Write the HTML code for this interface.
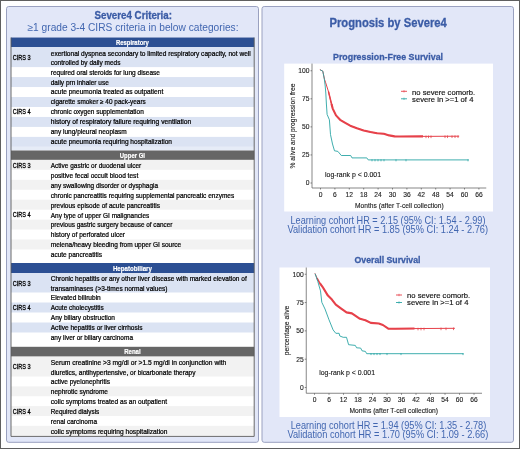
<!DOCTYPE html>
<html lang="en"><head><meta charset="utf-8"><title>Severe4 Criteria and Prognosis</title>
<style>html,body{margin:0;padding:0;background:#fff;overflow:hidden}svg{display:block}</style></head>
<body>
<svg width="520" height="449" viewBox="0 0 520 449" font-family='"Liberation Sans", sans-serif'>
<rect x="0" y="0" width="520" height="449" fill="#fff"/>
<rect x="0.5" y="0.5" width="519" height="448" fill="none" stroke="#5f5f5f" stroke-width="1"/>
<g style="filter:blur(0.35px)">
<rect x="6.5" y="6.5" width="252" height="435.8" rx="2.2" fill="#e2e7f8" stroke="#9aa1c0" stroke-width="1"/>
<rect x="262" y="6.5" width="251.5" height="435.8" rx="2.2" fill="#e2e7f8" stroke="#9aa1c0" stroke-width="1"/>
<text x="94.50" y="19.30" font-size="10.3" fill="#3b5ca6" font-weight="bold" text-anchor="start" textLength="77.50" lengthAdjust="spacingAndGlyphs" stroke="#3b5ca6" stroke-width="0.3">Severe4 Criteria:</text>
<text x="27.50" y="30.80" font-size="10" fill="#4166b0" font-weight="normal" text-anchor="start" textLength="211.00" lengthAdjust="spacingAndGlyphs">≥1 grade 3-4 CIRS criteria in below categories:</text>
<rect x="11" y="37.5" width="243.2" height="398.9" fill="#fff"/>
<rect x="11" y="37.5" width="243.2" height="9.5" fill="#2c4f93"/>
<text x="115.90" y="44.75" font-size="7.2" fill="#fff" font-weight="bold" text-anchor="start" textLength="33.00" lengthAdjust="spacingAndGlyphs" stroke="#fff" stroke-width="0.2">Respiratory</text>
<rect x="11" y="47.00" width="243.2" height="20.10" fill="#dbe3f3"/>
<text x="12.80" y="60.05" font-size="6.85" fill="#000" font-weight="normal" text-anchor="start" textLength="17.80" lengthAdjust="spacingAndGlyphs" stroke="#000" stroke-width="0.3">CIRS 3</text>
<text x="50.75" y="55.55" font-size="6.75" fill="#000" font-weight="normal" text-anchor="start" textLength="200.00" lengthAdjust="spacingAndGlyphs" stroke="#000" stroke-width="0.22">exertional dyspnea secondary to limited respiratory capacity, not well</text>
<text x="50.75" y="65.10" font-size="6.75" fill="#000" font-weight="normal" text-anchor="start" textLength="69.75" lengthAdjust="spacingAndGlyphs" stroke="#000" stroke-width="0.22">controlled by daily meds</text>
<text x="50.75" y="74.53" font-size="6.75" fill="#000" font-weight="normal" text-anchor="start" textLength="109.25" lengthAdjust="spacingAndGlyphs" stroke="#000" stroke-width="0.22">required oral steroids for lung disease</text>
<rect x="11" y="77.07" width="243.2" height="9.97" fill="#dbe3f3"/>
<text x="50.75" y="84.50" font-size="6.75" fill="#000" font-weight="normal" text-anchor="start" textLength="58.00" lengthAdjust="spacingAndGlyphs" stroke="#000" stroke-width="0.22">daily prn inhaler use</text>
<text x="50.75" y="94.47" font-size="6.75" fill="#000" font-weight="normal" text-anchor="start" textLength="112.50" lengthAdjust="spacingAndGlyphs" stroke="#000" stroke-width="0.22">acute pneumonia treated as outpatient</text>
<rect x="11" y="97.01" width="243.2" height="9.97" fill="#dbe3f3"/>
<text x="50.75" y="104.44" font-size="6.75" fill="#000" font-weight="normal" text-anchor="start" textLength="95.00" lengthAdjust="spacingAndGlyphs" stroke="#000" stroke-width="0.22">cigarette smoker ≥ 40 pack-years</text>
<text x="12.80" y="114.26" font-size="6.85" fill="#000" font-weight="normal" text-anchor="start" textLength="17.80" lengthAdjust="spacingAndGlyphs" stroke="#000" stroke-width="0.3">CIRS 4</text>
<text x="50.75" y="114.41" font-size="6.75" fill="#000" font-weight="normal" text-anchor="start" textLength="93.00" lengthAdjust="spacingAndGlyphs" stroke="#000" stroke-width="0.22">chronic oxygen supplementation</text>
<rect x="11" y="116.95" width="243.2" height="9.97" fill="#dbe3f3"/>
<text x="50.75" y="124.38" font-size="6.75" fill="#000" font-weight="normal" text-anchor="start" textLength="140.50" lengthAdjust="spacingAndGlyphs" stroke="#000" stroke-width="0.22">history of respiratory failure requiring ventilation</text>
<text x="50.75" y="134.36" font-size="6.75" fill="#000" font-weight="normal" text-anchor="start" textLength="76.00" lengthAdjust="spacingAndGlyphs" stroke="#000" stroke-width="0.22">any lung/pleural neoplasm</text>
<rect x="11" y="136.89" width="243.2" height="9.97" fill="#dbe3f3"/>
<text x="50.75" y="144.33" font-size="6.75" fill="#000" font-weight="normal" text-anchor="start" textLength="121.25" lengthAdjust="spacingAndGlyphs" stroke="#000" stroke-width="0.22">acute pneumonia requiring hospitalization</text>
<rect x="11" y="150.3" width="243.2" height="9.599999999999994" fill="#666666"/>
<text x="119.80" y="157.60" font-size="7.2" fill="#fff" font-weight="bold" text-anchor="start" textLength="25.20" lengthAdjust="spacingAndGlyphs" stroke="#fff" stroke-width="0.2">Upper GI</text>
<rect x="11" y="159.90" width="243.2" height="9.95" fill="#f2f2f2"/>
<text x="12.80" y="167.67" font-size="6.85" fill="#000" font-weight="normal" text-anchor="start" textLength="17.80" lengthAdjust="spacingAndGlyphs" stroke="#000" stroke-width="0.3">CIRS 3</text>
<text x="50.75" y="167.78" font-size="6.75" fill="#000" font-weight="normal" text-anchor="start" textLength="90.50" lengthAdjust="spacingAndGlyphs" stroke="#000" stroke-width="0.22">Active gastric or duodenal ulcer</text>
<text x="50.75" y="177.72" font-size="6.75" fill="#000" font-weight="normal" text-anchor="start" textLength="87.50" lengthAdjust="spacingAndGlyphs" stroke="#000" stroke-width="0.22">positive fecal occult blood test</text>
<rect x="11" y="179.80" width="243.2" height="9.95" fill="#f2f2f2"/>
<text x="50.75" y="187.67" font-size="6.75" fill="#000" font-weight="normal" text-anchor="start" textLength="107.25" lengthAdjust="spacingAndGlyphs" stroke="#000" stroke-width="0.22">any swallowing disorder or dysphagia</text>
<text x="50.75" y="197.62" font-size="6.75" fill="#000" font-weight="normal" text-anchor="start" textLength="183.50" lengthAdjust="spacingAndGlyphs" stroke="#000" stroke-width="0.22">chronic pancreatitis requiring supplemental pancreatic enzymes</text>
<rect x="11" y="199.70" width="243.2" height="9.95" fill="#f2f2f2"/>
<text x="50.75" y="207.57" font-size="6.75" fill="#000" font-weight="normal" text-anchor="start" textLength="109.25" lengthAdjust="spacingAndGlyphs" stroke="#000" stroke-width="0.22">previous episode of acute pancreatitis</text>
<text x="12.80" y="217.42" font-size="6.85" fill="#000" font-weight="normal" text-anchor="start" textLength="17.80" lengthAdjust="spacingAndGlyphs" stroke="#000" stroke-width="0.3">CIRS 4</text>
<text x="50.75" y="217.52" font-size="6.75" fill="#000" font-weight="normal" text-anchor="start" textLength="98.50" lengthAdjust="spacingAndGlyphs" stroke="#000" stroke-width="0.22">Any type of upper GI malignancies</text>
<rect x="11" y="219.60" width="243.2" height="9.95" fill="#f2f2f2"/>
<text x="50.75" y="227.47" font-size="6.75" fill="#000" font-weight="normal" text-anchor="start" textLength="121.75" lengthAdjust="spacingAndGlyphs" stroke="#000" stroke-width="0.22">previous gastric surgery because of cancer</text>
<text x="50.75" y="237.42" font-size="6.75" fill="#000" font-weight="normal" text-anchor="start" textLength="74.25" lengthAdjust="spacingAndGlyphs" stroke="#000" stroke-width="0.22">history of perforated ulcer</text>
<rect x="11" y="239.50" width="243.2" height="9.95" fill="#f2f2f2"/>
<text x="50.75" y="247.37" font-size="6.75" fill="#000" font-weight="normal" text-anchor="start" textLength="130.50" lengthAdjust="spacingAndGlyphs" stroke="#000" stroke-width="0.22">melena/heavy bleeding from upper GI source</text>
<text x="50.75" y="257.32" font-size="6.75" fill="#000" font-weight="normal" text-anchor="start" textLength="51.25" lengthAdjust="spacingAndGlyphs" stroke="#000" stroke-width="0.22">acute pancreatitis</text>
<rect x="11" y="263" width="243.2" height="10" fill="#2c4f93"/>
<text x="112.90" y="270.50" font-size="7.2" fill="#fff" font-weight="bold" text-anchor="start" textLength="39.00" lengthAdjust="spacingAndGlyphs" stroke="#fff" stroke-width="0.2">Hepatobiliary</text>
<rect x="11" y="273.00" width="243.2" height="19.50" fill="#dbe3f3"/>
<text x="12.80" y="285.85" font-size="6.85" fill="#000" font-weight="normal" text-anchor="start" textLength="17.80" lengthAdjust="spacingAndGlyphs" stroke="#000" stroke-width="0.3">CIRS 3</text>
<text x="50.75" y="281.15" font-size="6.75" fill="#000" font-weight="normal" text-anchor="start" textLength="196.00" lengthAdjust="spacingAndGlyphs" stroke="#000" stroke-width="0.22">Chronic hepatitis or any other liver disease with marked elevation of</text>
<text x="50.75" y="291.00" font-size="6.75" fill="#000" font-weight="normal" text-anchor="start" textLength="116.75" lengthAdjust="spacingAndGlyphs" stroke="#000" stroke-width="0.22">transaminases (&gt;3-times normal values)</text>
<text x="50.75" y="300.10" font-size="6.75" fill="#000" font-weight="normal" text-anchor="start" textLength="50.00" lengthAdjust="spacingAndGlyphs" stroke="#000" stroke-width="0.22">Elevated bilirubin</text>
<rect x="11" y="302.50" width="243.2" height="10.00" fill="#dbe3f3"/>
<text x="12.80" y="309.70" font-size="6.85" fill="#000" font-weight="normal" text-anchor="start" textLength="17.80" lengthAdjust="spacingAndGlyphs" stroke="#000" stroke-width="0.3">CIRS 4</text>
<text x="50.75" y="310.10" font-size="6.75" fill="#000" font-weight="normal" text-anchor="start" textLength="53.00" lengthAdjust="spacingAndGlyphs" stroke="#000" stroke-width="0.22">Acute cholecystitis</text>
<text x="50.75" y="320.10" font-size="6.75" fill="#000" font-weight="normal" text-anchor="start" textLength="64.25" lengthAdjust="spacingAndGlyphs" stroke="#000" stroke-width="0.22">Any biliary obstruction</text>
<rect x="11" y="322.50" width="243.2" height="10.00" fill="#dbe3f3"/>
<text x="50.75" y="330.10" font-size="6.75" fill="#000" font-weight="normal" text-anchor="start" textLength="91.75" lengthAdjust="spacingAndGlyphs" stroke="#000" stroke-width="0.22">Active hepatitis or liver cirrhosis</text>
<text x="50.75" y="340.10" font-size="6.75" fill="#000" font-weight="normal" text-anchor="start" textLength="82.25" lengthAdjust="spacingAndGlyphs" stroke="#000" stroke-width="0.22">any liver or biliary carcinoma</text>
<rect x="11" y="346.8" width="243.2" height="9.800000000000011" fill="#666666"/>
<text x="124.15" y="354.20" font-size="7.2" fill="#fff" font-weight="bold" text-anchor="start" textLength="16.50" lengthAdjust="spacingAndGlyphs" stroke="#fff" stroke-width="0.2">Renal</text>
<rect x="11" y="356.60" width="243.2" height="19.90" fill="#f2f2f2"/>
<text x="12.80" y="369.05" font-size="6.85" fill="#000" font-weight="normal" text-anchor="start" textLength="17.80" lengthAdjust="spacingAndGlyphs" stroke="#000" stroke-width="0.3">CIRS 3</text>
<text x="50.75" y="364.95" font-size="6.75" fill="#000" font-weight="normal" text-anchor="start" textLength="175.50" lengthAdjust="spacingAndGlyphs" stroke="#000" stroke-width="0.22">Serum creatinine &gt;3 mg/dl or &gt;1.5 mg/dl in conjunction with</text>
<text x="50.75" y="374.70" font-size="6.75" fill="#000" font-weight="normal" text-anchor="start" textLength="144.75" lengthAdjust="spacingAndGlyphs" stroke="#000" stroke-width="0.22">diuretics, antihypertensive, or bicarbonate therapy</text>
<text x="50.75" y="384.41" font-size="6.75" fill="#000" font-weight="normal" text-anchor="start" textLength="59.25" lengthAdjust="spacingAndGlyphs" stroke="#000" stroke-width="0.22">active pyelonephritis</text>
<rect x="11" y="386.37" width="243.2" height="9.87" fill="#f2f2f2"/>
<text x="50.75" y="394.28" font-size="6.75" fill="#000" font-weight="normal" text-anchor="start" textLength="57.25" lengthAdjust="spacingAndGlyphs" stroke="#000" stroke-width="0.22">nephrotic syndrome</text>
<text x="50.75" y="404.15" font-size="6.75" fill="#000" font-weight="normal" text-anchor="start" textLength="116.25" lengthAdjust="spacingAndGlyphs" stroke="#000" stroke-width="0.22">colic symptoms treated as an outpatient</text>
<rect x="11" y="406.11" width="243.2" height="9.87" fill="#f2f2f2"/>
<text x="12.80" y="413.82" font-size="6.85" fill="#000" font-weight="normal" text-anchor="start" textLength="17.80" lengthAdjust="spacingAndGlyphs" stroke="#000" stroke-width="0.3">CIRS 4</text>
<text x="50.75" y="414.02" font-size="6.75" fill="#000" font-weight="normal" text-anchor="start" textLength="48.50" lengthAdjust="spacingAndGlyphs" stroke="#000" stroke-width="0.22">Required dialysis</text>
<text x="50.75" y="423.89" font-size="6.75" fill="#000" font-weight="normal" text-anchor="start" textLength="46.25" lengthAdjust="spacingAndGlyphs" stroke="#000" stroke-width="0.22">renal carcinoma</text>
<rect x="11" y="425.85" width="243.2" height="9.87" fill="#f2f2f2"/>
<text x="50.75" y="433.76" font-size="6.75" fill="#000" font-weight="normal" text-anchor="start" textLength="116.75" lengthAdjust="spacingAndGlyphs" stroke="#000" stroke-width="0.22">colic symptoms requiring hospitalization</text>
<rect x="11" y="146.8" width="243.2" height="3.5" fill="#e6ecf7"/>
<path d="M11,37.5 V436.4 H254.2 V37.5" fill="none" stroke="#5a5a5a" stroke-width="0.9"/>
<text x="329.50" y="26.50" font-size="12.4" fill="#3b5ca6" font-weight="bold" text-anchor="start" textLength="117.25" lengthAdjust="spacingAndGlyphs" stroke="#3b5ca6" stroke-width="0.3">Prognosis by Severe4</text>
<text x="333.00" y="60.00" font-size="9.8" fill="#3b5ca6" font-weight="bold" text-anchor="start" textLength="110.00" lengthAdjust="spacingAndGlyphs" stroke="#3b5ca6" stroke-width="0.3">Progression-Free Survival</text>
<text x="354.50" y="262.60" font-size="9.8" fill="#3b5ca6" font-weight="bold" text-anchor="start" textLength="66.00" lengthAdjust="spacingAndGlyphs" stroke="#3b5ca6" stroke-width="0.3">Overall Survival</text>
<rect x="284.2" y="63.6" width="208.8" height="147.9" fill="#fff"/>
<path d="M312.0,63.6 V188 H486.25" fill="none" stroke="#555" stroke-width="0.7"/>
<text x="309.50" y="73.15" font-size="6.7" fill="#222" font-weight="normal" text-anchor="end" stroke="#222" stroke-width="0.12">100</text>
<text x="309.50" y="101.21" font-size="6.7" fill="#222" font-weight="normal" text-anchor="end" stroke="#222" stroke-width="0.12">75</text>
<text x="309.50" y="129.28" font-size="6.7" fill="#222" font-weight="normal" text-anchor="end" stroke="#222" stroke-width="0.12">50</text>
<text x="309.50" y="157.34" font-size="6.7" fill="#222" font-weight="normal" text-anchor="end" stroke="#222" stroke-width="0.12">25</text>
<text x="309.50" y="185.40" font-size="6.7" fill="#222" font-weight="normal" text-anchor="end" stroke="#222" stroke-width="0.12">0</text>
<text x="320.50" y="196.50" font-size="6.7" fill="#222" font-weight="normal" text-anchor="middle" stroke="#222" stroke-width="0.12">0</text>
<text x="334.90" y="196.50" font-size="6.7" fill="#222" font-weight="normal" text-anchor="middle" stroke="#222" stroke-width="0.12">6</text>
<text x="349.30" y="196.50" font-size="6.7" fill="#222" font-weight="normal" text-anchor="middle" stroke="#222" stroke-width="0.12">12</text>
<text x="363.70" y="196.50" font-size="6.7" fill="#222" font-weight="normal" text-anchor="middle" stroke="#222" stroke-width="0.12">18</text>
<text x="378.10" y="196.50" font-size="6.7" fill="#222" font-weight="normal" text-anchor="middle" stroke="#222" stroke-width="0.12">24</text>
<text x="392.50" y="196.50" font-size="6.7" fill="#222" font-weight="normal" text-anchor="middle" stroke="#222" stroke-width="0.12">30</text>
<text x="406.90" y="196.50" font-size="6.7" fill="#222" font-weight="normal" text-anchor="middle" stroke="#222" stroke-width="0.12">36</text>
<text x="421.30" y="196.50" font-size="6.7" fill="#222" font-weight="normal" text-anchor="middle" stroke="#222" stroke-width="0.12">42</text>
<text x="435.70" y="196.50" font-size="6.7" fill="#222" font-weight="normal" text-anchor="middle" stroke="#222" stroke-width="0.12">48</text>
<text x="450.10" y="196.50" font-size="6.7" fill="#222" font-weight="normal" text-anchor="middle" stroke="#222" stroke-width="0.12">54</text>
<text x="464.50" y="196.50" font-size="6.7" fill="#222" font-weight="normal" text-anchor="middle" stroke="#222" stroke-width="0.12">60</text>
<text x="478.90" y="196.50" font-size="6.7" fill="#222" font-weight="normal" text-anchor="middle" stroke="#222" stroke-width="0.12">66</text>
<path d="M310.5,70.75H312.0M310.5,98.81H312.0M310.5,126.88H312.0M310.5,154.94H312.0M310.5,183.00H312.0M320.50,188v1.5M334.90,188v1.5M349.30,188v1.5M363.70,188v1.5M378.10,188v1.5M392.50,188v1.5M406.90,188v1.5M421.30,188v1.5M435.70,188v1.5M450.10,188v1.5M464.50,188v1.5M478.90,188v1.5" fill="none" stroke="#555" stroke-width="0.7"/>
<text transform="translate(295.3,168.50) rotate(-90)" font-size="6.7" fill="#222" stroke="#222" stroke-width="0.12" textLength="85" lengthAdjust="spacingAndGlyphs">% alive and progression free</text>
<text x="355.00" y="208.10" font-size="6.5" fill="#222" font-weight="normal" text-anchor="start" textLength="88.75" lengthAdjust="spacingAndGlyphs" stroke="#222" stroke-width="0.12">Months  (after T-cell collection)</text>
<text x="325.00" y="177.20" font-size="6.7" fill="#111" font-weight="normal" text-anchor="start" textLength="56.00" lengthAdjust="spacingAndGlyphs" stroke="#222" stroke-width="0.12">log-rank p &lt; 0.001</text>
<path d="M320.20,69.80L322.80,71.20L324.50,79.30L325.70,82.80L328.60,92.00L330.60,100.50L332.70,108.60L336.00,115.40L340.10,119.80L344.80,122.60L350.20,125.70L356.90,128.20L363.60,130.40L370.40,132.00L377.10,133.30L383.80,133.80L389.20,135.40L394.60,136.40L400.00,136.50L458.75,136.20" fill="none" stroke="#e6414a" stroke-width="1.0" stroke-linejoin="round" stroke-linecap="round"/>
<path d="M331.50,103.97L332.70,108.60L336.00,115.40L340.10,119.80L344.80,122.60L350.20,125.70L356.90,128.20L363.60,130.40L370.40,132.00L377.10,133.30L383.80,133.80L389.20,135.40L394.60,136.40L400.00,136.50L423.00,136.38" fill="none" stroke="#e6414a" stroke-width="2.1" stroke-linejoin="round" stroke-linecap="butt"/>
<path d="M328.50,91.68L331.80,105.13" fill="none" stroke="#e6414a" stroke-width="1.5"/>
<path d="M426,135.57v2.6M428.5,135.55v2.6M431,135.54v2.6M445,135.47v2.6M447.5,135.46v2.6M452,135.43v2.6M455,135.42v2.6M458,135.40v2.6" fill="none" stroke="#e6414a" stroke-width="0.8"/>
<path d="M320.20,69.80L322.80,71.20L324.30,79.00L325.20,86.00L325.80,93.00L326.40,104.00L327.10,114.40L329.40,119.80L330.50,134.60L332.50,144.00L334.50,150.80L337.90,151.40L341.30,155.50L350.70,155.50L352.00,157.90L366.80,157.90L368.20,159.90L468.75,159.90" fill="none" stroke="#2aa5a5" stroke-width="0.9" stroke-linejoin="round"/>
<path d="M372,159.30v2M375,159.30v2M378,159.30v2M381,159.30v2M384,159.30v2M396,159.30v2M406,159.30v2M468,159.30v2" fill="none" stroke="#2aa5a5" stroke-width="0.8"/>
<path d="M401,91.3h6" stroke="#e6414a" stroke-width="0.9"/><path d="M404,90.1v2.4" stroke="#e6414a" stroke-width="0.6"/>
<path d="M401,98.8h6" stroke="#2aa5a5" stroke-width="0.9"/><path d="M404,97.6v2.4" stroke="#2aa5a5" stroke-width="0.6"/>
<text x="412.10" y="94.50" font-size="7.5" fill="#111" font-weight="normal" text-anchor="start" textLength="63.00" lengthAdjust="spacingAndGlyphs" stroke="#111" stroke-width="0.15">no severe comorb.</text>
<text x="412.10" y="101.60" font-size="7.5" fill="#111" font-weight="normal" text-anchor="start" textLength="61.30" lengthAdjust="spacingAndGlyphs" stroke="#111" stroke-width="0.15">severe in &gt;=1 of 4</text>
<rect x="279.5" y="267.5" width="210.5" height="149.5" fill="#fff"/>
<path d="M306.25,267.5 V393.25 H482" fill="none" stroke="#555" stroke-width="0.7"/>
<text x="303.75" y="276.65" font-size="6.7" fill="#222" font-weight="normal" text-anchor="end" stroke="#222" stroke-width="0.12">100</text>
<text x="303.75" y="304.96" font-size="6.7" fill="#222" font-weight="normal" text-anchor="end" stroke="#222" stroke-width="0.12">75</text>
<text x="303.75" y="333.27" font-size="6.7" fill="#222" font-weight="normal" text-anchor="end" stroke="#222" stroke-width="0.12">50</text>
<text x="303.75" y="361.59" font-size="6.7" fill="#222" font-weight="normal" text-anchor="end" stroke="#222" stroke-width="0.12">25</text>
<text x="303.75" y="389.90" font-size="6.7" fill="#222" font-weight="normal" text-anchor="end" stroke="#222" stroke-width="0.12">0</text>
<text x="314.50" y="401.75" font-size="6.7" fill="#222" font-weight="normal" text-anchor="middle" stroke="#222" stroke-width="0.12">0</text>
<text x="329.00" y="401.75" font-size="6.7" fill="#222" font-weight="normal" text-anchor="middle" stroke="#222" stroke-width="0.12">6</text>
<text x="343.50" y="401.75" font-size="6.7" fill="#222" font-weight="normal" text-anchor="middle" stroke="#222" stroke-width="0.12">12</text>
<text x="358.01" y="401.75" font-size="6.7" fill="#222" font-weight="normal" text-anchor="middle" stroke="#222" stroke-width="0.12">18</text>
<text x="372.51" y="401.75" font-size="6.7" fill="#222" font-weight="normal" text-anchor="middle" stroke="#222" stroke-width="0.12">24</text>
<text x="387.01" y="401.75" font-size="6.7" fill="#222" font-weight="normal" text-anchor="middle" stroke="#222" stroke-width="0.12">30</text>
<text x="401.51" y="401.75" font-size="6.7" fill="#222" font-weight="normal" text-anchor="middle" stroke="#222" stroke-width="0.12">36</text>
<text x="416.01" y="401.75" font-size="6.7" fill="#222" font-weight="normal" text-anchor="middle" stroke="#222" stroke-width="0.12">42</text>
<text x="430.52" y="401.75" font-size="6.7" fill="#222" font-weight="normal" text-anchor="middle" stroke="#222" stroke-width="0.12">48</text>
<text x="445.02" y="401.75" font-size="6.7" fill="#222" font-weight="normal" text-anchor="middle" stroke="#222" stroke-width="0.12">54</text>
<text x="459.52" y="401.75" font-size="6.7" fill="#222" font-weight="normal" text-anchor="middle" stroke="#222" stroke-width="0.12">60</text>
<text x="474.02" y="401.75" font-size="6.7" fill="#222" font-weight="normal" text-anchor="middle" stroke="#222" stroke-width="0.12">66</text>
<path d="M304.75,274.25H306.25M304.75,302.56H306.25M304.75,330.88H306.25M304.75,359.19H306.25M304.75,387.50H306.25M314.50,393.25v1.5M329.00,393.25v1.5M343.50,393.25v1.5M358.01,393.25v1.5M372.51,393.25v1.5M387.01,393.25v1.5M401.51,393.25v1.5M416.01,393.25v1.5M430.52,393.25v1.5M445.02,393.25v1.5M459.52,393.25v1.5M474.02,393.25v1.5" fill="none" stroke="#555" stroke-width="0.7"/>
<text transform="translate(289.3,355.30) rotate(-90)" font-size="6.7" fill="#222" stroke="#222" stroke-width="0.12" textLength="49.6" lengthAdjust="spacingAndGlyphs">percentage alive</text>
<text x="349.50" y="412.70" font-size="6.5" fill="#222" font-weight="normal" text-anchor="start" textLength="88.50" lengthAdjust="spacingAndGlyphs" stroke="#222" stroke-width="0.12">Months  (after T-cell collection)</text>
<text x="319.25" y="374.95" font-size="6.7" fill="#111" font-weight="normal" text-anchor="start" textLength="55.75" lengthAdjust="spacingAndGlyphs" stroke="#222" stroke-width="0.12">log-rank p &lt; 0.001</text>
<path d="M315.10,273.70L318.50,281.50L322.50,286.80L327.90,295.60L331.90,299.60L335.80,304.60L341.20,308.60L346.50,312.40L351.90,313.40L360.00,318.80L365.40,320.20L370.80,322.90L378.80,323.50L382.90,325.00L388.30,328.60L395.00,328.70L454.50,328.30" fill="none" stroke="#e6414a" stroke-width="1.0" stroke-linejoin="round" stroke-linecap="round"/>
<path d="M320.00,283.49L322.50,286.80L327.90,295.60L331.90,299.60L335.80,304.60L341.20,308.60L346.50,312.40L351.90,313.40L360.00,318.80L365.40,320.20L370.80,322.90L378.80,323.50L382.90,325.00L388.30,328.60L395.00,328.70L414.50,328.57" fill="none" stroke="#e6414a" stroke-width="2.1" stroke-linejoin="round" stroke-linecap="butt"/>
<path d="M317.00,278.06L320.30,283.89" fill="none" stroke="#e6414a" stroke-width="1.5"/>
<path d="M418,327.75v2.6M421,327.73v2.6M424,327.71v2.6M441,327.59v2.6M446,327.56v2.6M453.5,327.51v2.6" fill="none" stroke="#e6414a" stroke-width="0.8"/>
<path d="M315.10,273.70L317.80,281.50L320.50,290.90L321.80,302.30L325.00,309.00L329.00,319.80L333.10,329.90L335.80,333.30L339.10,333.30L339.80,336.00L343.20,337.30L346.50,337.30L348.60,344.70L355.30,345.40L356.60,347.80L360.70,348.10L362.00,350.80L365.40,351.40L366.70,353.70L463.50,353.70" fill="none" stroke="#2aa5a5" stroke-width="0.9" stroke-linejoin="round"/>
<path d="M371,353.10v2M374,353.10v2M377,353.10v2M380,353.10v2M387,353.10v2M401,353.10v2M463,353.10v2" fill="none" stroke="#2aa5a5" stroke-width="0.8"/>
<path d="M396,295h6" stroke="#e6414a" stroke-width="0.9"/><path d="M399,293.8v2.4" stroke="#e6414a" stroke-width="0.6"/>
<path d="M396,302.5h6" stroke="#2aa5a5" stroke-width="0.9"/><path d="M399,301.3v2.4" stroke="#2aa5a5" stroke-width="0.6"/>
<text x="407.10" y="298.20" font-size="7.5" fill="#111" font-weight="normal" text-anchor="start" textLength="63.00" lengthAdjust="spacingAndGlyphs" stroke="#111" stroke-width="0.15">no severe comorb.</text>
<text x="407.10" y="305.30" font-size="7.5" fill="#111" font-weight="normal" text-anchor="start" textLength="61.30" lengthAdjust="spacingAndGlyphs" stroke="#111" stroke-width="0.15">severe in &gt;=1 of 4</text>
<text x="290.50" y="223.50" font-size="10.2" fill="#4166b0" font-weight="normal" text-anchor="start" textLength="195.00" lengthAdjust="spacingAndGlyphs">Learning cohort HR = 2.15 (95% CI: 1.54 - 2.99)</text>
<text x="287.50" y="233.00" font-size="10.2" fill="#4166b0" font-weight="normal" text-anchor="start" textLength="200.50" lengthAdjust="spacingAndGlyphs">Validation cohort HR = 1.85 (95% CI: 1.24 - 2.76)</text>
<text x="290.75" y="429.20" font-size="10.2" fill="#4166b0" font-weight="normal" text-anchor="start" textLength="195.50" lengthAdjust="spacingAndGlyphs">Learning cohort HR = 1.94 (95% CI: 1.35 - 2.78)</text>
<text x="287.50" y="438.00" font-size="10.2" fill="#4166b0" font-weight="normal" text-anchor="start" textLength="200.75" lengthAdjust="spacingAndGlyphs">Validation cohort HR = 1.70 (95% CI: 1.09 - 2.66)</text>
</g>
</svg>
</body></html>
